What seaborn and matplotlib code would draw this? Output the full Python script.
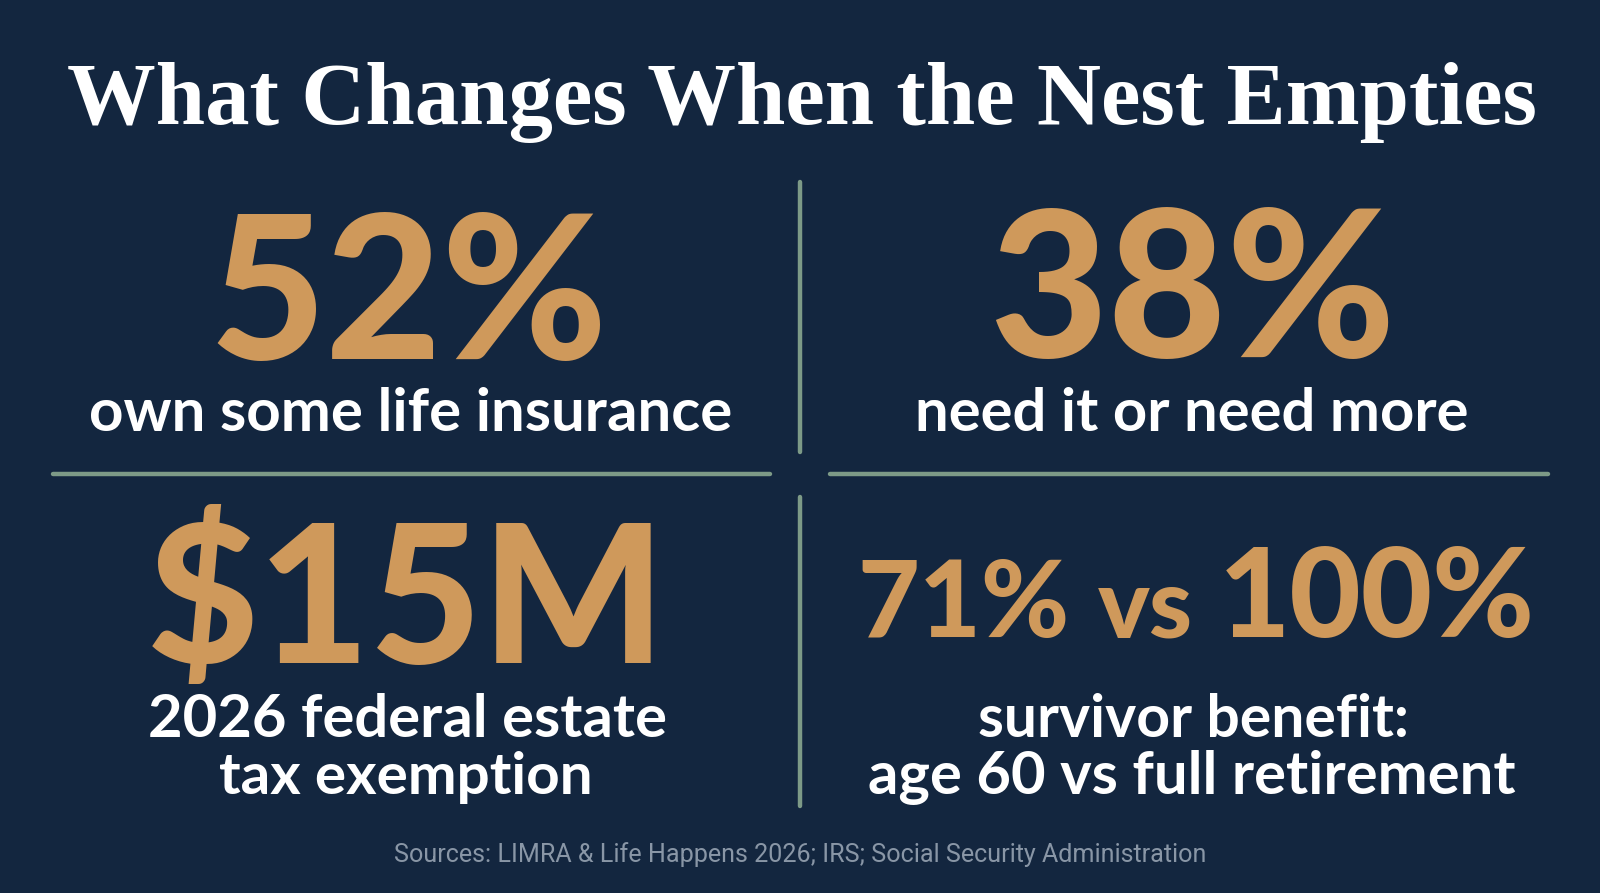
import pandas as pd
import seaborn as sns
import matplotlib.pyplot as plt

# chart content
title = "What Changes When the Nest Empties"
stat_values = ["52%", "38%", "$15M", "71% vs 100%"]
stat_labels = [
    ["own some life insurance"],
    ["need it or need more"],
    ["2026 federal estate", "tax exemption"],
    ["survivor benefit:", "age 60 vs full retirement"],
]
source = "Sources: LIMRA & Life Happens 2026; IRS; Social Security Administration"

BG = "#13263f"
GOLD = "#cf995b"
GREEN = "#7d9a87"
GREY = "#8996a6"

sns.set_theme(style="white")
plt.rcParams["font.family"] = ["Lato", "DejaVu Sans"]

W, H = 1600, 893
fig = plt.figure(figsize=(16, 8.93), dpi=100, facecolor=BG)
ax = fig.add_axes([0, 0, 1, 1])
ax.set_facecolor(BG)
renderer = fig.canvas.get_renderer()


def put(s, cx, base, width, color, **kw):
    # place text centred on cx and scale it to the wanted pixel width
    t = ax.text(cx, base, s, ha="center", va="baseline", color=color,
                fontsize=40, **kw)
    bb = t.get_window_extent(renderer)
    t.set_fontsize(40 * width / bb.width)
    return t


# divider lines
lines = pd.DataFrame({
    "x": [800, 800, 800, 800, 53, 770, 830, 1548],
    "y": [182, 452, 497, 806, 474, 474, 474, 474],
    "seg": [0, 0, 1, 1, 2, 2, 3, 3],
})
sns.lineplot(data=lines, x="x", y="y", units="seg", estimator=None,
             sort=False, color=GREEN, lw=3.2, ax=ax, legend=False)
ax.set_xlim(0, W)
ax.set_ylim(H, 0)
ax.axis("off")

# title
put(title, 802, 124, 1467, "white", family=["Liberation Serif"], fontweight="bold")

# big numbers
num_kw = dict(family=["Lato", "DejaVu Sans"], fontweight="black")
put(stat_values[0], 409, 359, 398, GOLD, **num_kw)
put(stat_values[1], 1192, 357, 406, GOLD, **num_kw)
put(stat_values[2], 406, 663, 519, GOLD, **num_kw)
a, vs, b = stat_values[3].split(" ")
put(a, 964, 637, 212, GOLD, **num_kw)
put(vs, 1145, 637, 95, GOLD, **num_kw)
put(b, 1377, 637, 316, GOLD, **num_kw)

# labels
lab_kw = dict(family=["Lato", "DejaVu Sans"], fontweight="bold")
put(stat_labels[0][0], 411, 431, 643, "white", **lab_kw)
put(stat_labels[1][0], 1192, 431, 554, "white", **lab_kw)
put(stat_labels[2][0], 408, 737, 519, "white", **lab_kw)
put(stat_labels[2][1], 406, 794, 374, "white", **lab_kw)
put(stat_labels[3][0], 1193, 737, 431, "white", **lab_kw)
put(stat_labels[3][1], 1192, 794, 648, "white", **lab_kw)

# source line
put(source, 800, 862, 812, GREY, family=["Roboto", "DejaVu Sans"])

fig.savefig("out.png", dpi=100, facecolor=BG)
